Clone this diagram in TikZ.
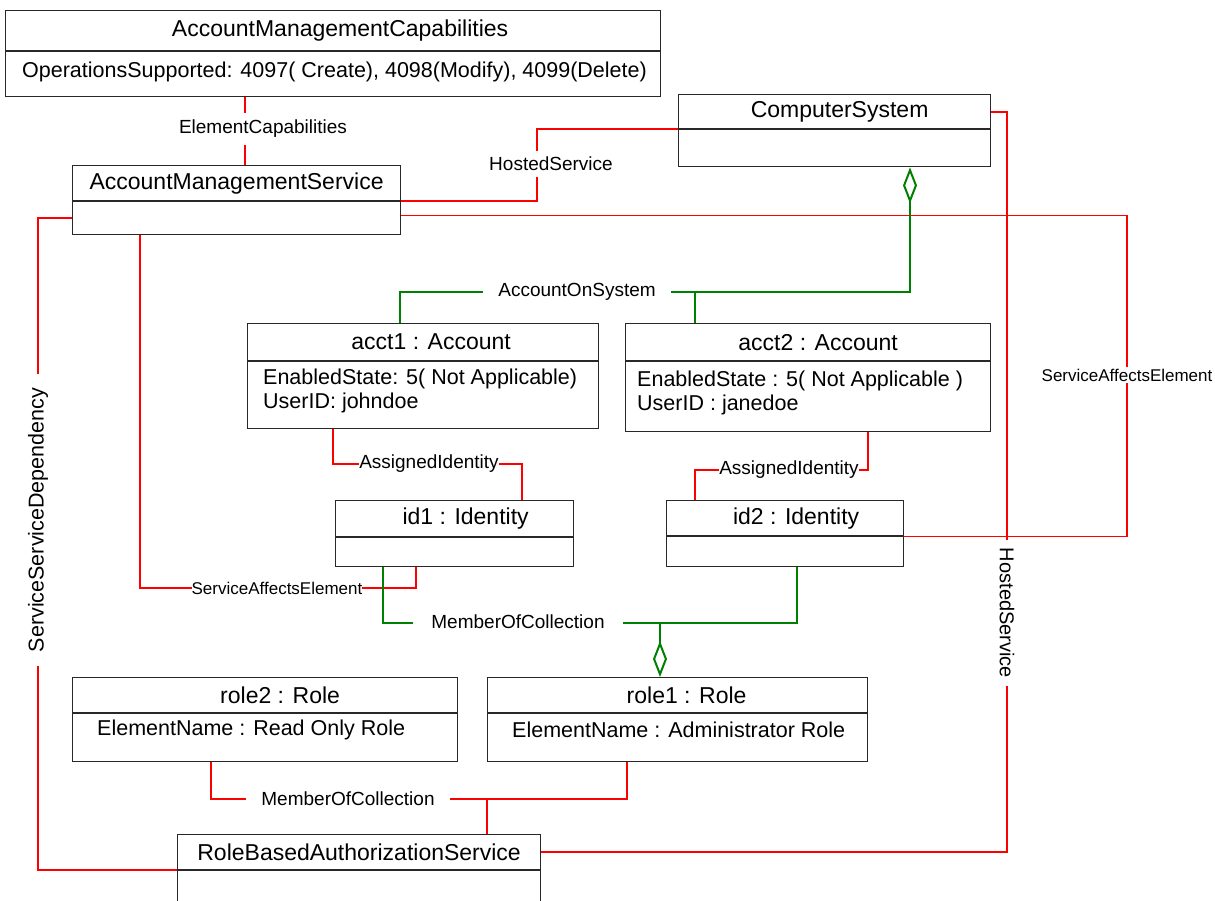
\documentclass[tikz,border=0pt]{standalone}
\usepackage{fontspec}
\setmainfont{Liberation Sans}
\usetikzlibrary{arrows.meta,calc}
\definecolor{rl}{RGB}{255,0,0}
\definecolor{gl}{RGB}{0,128,0}
\definecolor{bx}{RGB}{40,40,40}
\newcommand{\titlefnt}{\fontsize{23}{26}\selectfont}
\newcommand{\attrfnt}{\fontsize{21.5}{24}\selectfont}
\newcommand{\lblfnt}{\fontsize{19}{22}\selectfont}
\newcommand{\saefnt}{\fontsize{17}{20}\selectfont}
\newcommand{\sh}[1]{\hspace*{#1pt}}
\tikzset{
  hdr/.style={draw=bx, line width=1.2pt, fill=white, anchor=north west, inner sep=0pt, font=\titlefnt},
  bdy/.style={draw=bx, line width=1.2pt, fill=white, anchor=north west, inner sep=0pt},
  attr/.style={anchor=west, inner sep=0pt, align=left, font=\attrfnt},
  rel/.style={draw=rl, line width=2pt},
  thinrel/.style={draw=rl, line width=1.2pt},
  agg/.style={draw=gl, line width=2pt},
  lbl/.style={fill=white, inner xsep=10pt, inner ysep=2pt, font=\lblfnt},
  dia/.tip={Diamond[open, length=36pt, width=14pt, line width=2pt]}
}
\begin{document}
\begin{tikzpicture}[x=1pt,y=-1pt]
\clip (0,0) rectangle (1215,901);
\fill[white] (0,0) rectangle (1215,901);

% ---------- boxes ----------
\node[hdr, minimum width=655pt, minimum height=40pt] (amc) at (5,10) {\sh{14}AccountManagementCapabilities};
\node[bdy, minimum width=655pt, minimum height=45pt] (amcb) at (amc.south west) {};
\node[attr] (amca) at (22,72) {OperationsSupported: 4097( Create), 4098(Modify), 4099(Delete)};

\node[hdr, minimum width=328pt, minimum height=35pt] (ams) at (72,165) {AccountManagementService};
\node[bdy, minimum width=328pt, minimum height=33pt] (amsb) at (ams.south west) {};

\node[hdr, minimum width=312pt, minimum height=34pt] (cs) at (678,94) {\sh{10}ComputerSystem};
\node[bdy, minimum width=312pt, minimum height=37pt] (csb) at (cs.south west) {};

\node[hdr, minimum width=351pt, minimum height=37pt] (acct1) at (247,323) {\sh{16}acct1 : Account};
\node[bdy, minimum width=351pt, minimum height=67pt] (acct1b) at (acct1.south west) {};
\node[attr] (acct1a) at (263,391) {EnabledState: 5( Not Applicable)\\ UserID: johndoe};

\node[hdr, minimum width=365pt, minimum height=37pt] (acct2) at (625,323) {\sh{20}acct2 : Account};
\node[bdy, minimum width=365pt, minimum height=70pt] (acct2b) at (acct2.south west) {};
\node[attr] (acct2a) at (637,393) {EnabledState : 5( Not Applicable )\\UserID : janedoe};

\node[hdr, minimum width=238pt, minimum height=36pt] (id1) at (335,500) {\sh{22}id1 : Identity};
\node[bdy, minimum width=238pt, minimum height=29pt] (id1b) at (id1.south west) {};

\node[hdr, minimum width=237pt, minimum height=35pt] (id2) at (666,500) {\sh{22}id2 : Identity};
\node[bdy, minimum width=237pt, minimum height=30pt] (id2b) at (id2.south west) {};

\node[hdr, minimum width=385pt, minimum height=35pt] (role2) at (72,677) {\sh{30}role2 : Role};
\node[bdy, minimum width=385pt, minimum height=48pt] (role2b) at (role2.south west) {};
\node[attr] (role2a) at (97,730) {ElementName : Read Only Role};

\node[hdr, minimum width=380pt, minimum height=35pt] (role1) at (487,677) {\sh{18}role1 : Role};
\node[bdy, minimum width=380pt, minimum height=48pt] (role1b) at (role1.south west) {};
\node[attr] (role1a) at (512,730) {ElementName : Administrator Role};

\node[hdr, minimum width=363pt, minimum height=35pt] (rbas) at (177,834) {RoleBasedAuthorizationService};
\node[bdy, minimum width=363pt, minimum height=45pt] (rbasb) at (rbas.south west) {};

% ---------- connectors ----------
% ElementCapabilities
\coordinate (ecx) at (245,129);
\draw[rel] (amcb.south -| ecx) -- (ams.north -| ecx);
\node[lbl, inner xsep=2pt, inner ysep=7pt] (ecl) at (263,129) {ElementCapabilities};

% HostedService AMS - CS
\coordinate (hs1) at (537,164);
\draw[rel] (ams.south east) -| (hs1) |- (cs.south west);
\node[lbl, inner xsep=2pt, inner ysep=6pt] (hsl1) at (551,164) {HostedService};

% ServiceAffectsElement AMS - id2
\coordinate (sae2) at (1127,375);
\draw[thinrel] ([yshift=3pt]amsb.east) -| (sae2) |- (id2.south east);
\node[lbl, font=\saefnt, inner xsep=2pt] (sael2) at (1127,375) {ServiceAffectsElement};

% HostedService CS - RBAS
\coordinate (hs2) at (1007,613);
\draw[rel] (cs.east) -| (hs2) |- (rbas.east);
\node[lbl, rotate=-90, inner xsep=8pt] (hsl2) at (1007,613) {\fontsize{20}{22}\selectfont HostedService};

% ServiceServiceDependency
\coordinate (ssd) at (38,520);
\draw[rel] (amsb.west) -| (ssd) |- (rbas.south west);
\node[lbl, rotate=90, inner xsep=14pt] (ssdl) at (38,520) {\fontsize{21.5}{22}\selectfont ServiceServiceDependency};

% ServiceAffectsElement AMS - id1
\coordinate (sae1a) at (140,588);
\coordinate (sae1b) at (416,588);
\draw[thinrel] (amsb.south -| sae1a) -- (sae1a) -- (sae1b) -- (id1b.south -| sae1b);

% MemberOfCollection (green)
\coordinate (moc1) at (383,623);
\coordinate (moc2) at (797,623);
\coordinate (mocj) at (660,623);
\draw[agg] (id1b.south -| moc1) -- (moc1) -- (moc2) -- (id2b.south -| moc2);
\draw[agg, -dia] (mocj) -- (role1.north -| mocj);
\node[lbl, inner xsep=18pt] (mocl1) at (518,622) {MemberOfCollection};

\node[lbl, font=\saefnt, inner xsep=0pt] (sael1) at (277,588) {ServiceAffectsElement};

% AccountOnSystem
\coordinate (aosR) at (910,292);
\coordinate (aosM) at (695,292);
\coordinate (aosL) at (400,292);
\draw[agg, dia-] (csb.south -| aosR) -- (aosR) -- (aosL) -- (acct1.north -| aosL);
\draw[agg] (aosM) -- (acct2.north -| aosM);
\node[lbl, inner xsep=15pt] (aosl) at (577,292) {AccountOnSystem};

% AssignedIdentity 1
\coordinate (ai1a) at (333,464);
\coordinate (ai1b) at (522,464);
\draw[rel] (acct1b.south -| ai1a) -- (ai1a) -- (ai1b) -- (id1.north -| ai1b);
\node[lbl, inner xsep=0pt] (ai1l) at (429,464) {AssignedIdentity};

% AssignedIdentity 2
\coordinate (ai2a) at (868,470);
\coordinate (ai2b) at (695,470);
\draw[rel] (acct2b.south -| ai2a) -- (ai2a) -- (ai2b) -- (id2.north -| ai2b);
\node[lbl, inner xsep=0pt] (ai2l) at (789,470) {AssignedIdentity};

% MemberOfCollection (red)
\coordinate (mr1) at (211,799);
\coordinate (mr2) at (627,799);
\coordinate (mrj) at (487,799);
\draw[rel] (role2b.south -| mr1) -- (mr1) -- (mr2) -- (role1b.south -| mr2);
\draw[rel] (mrj) -- (rbas.north -| mrj);
\node[lbl, inner xsep=15pt] (mocl2) at (348,799) {MemberOfCollection};
\end{tikzpicture}
\end{document}
